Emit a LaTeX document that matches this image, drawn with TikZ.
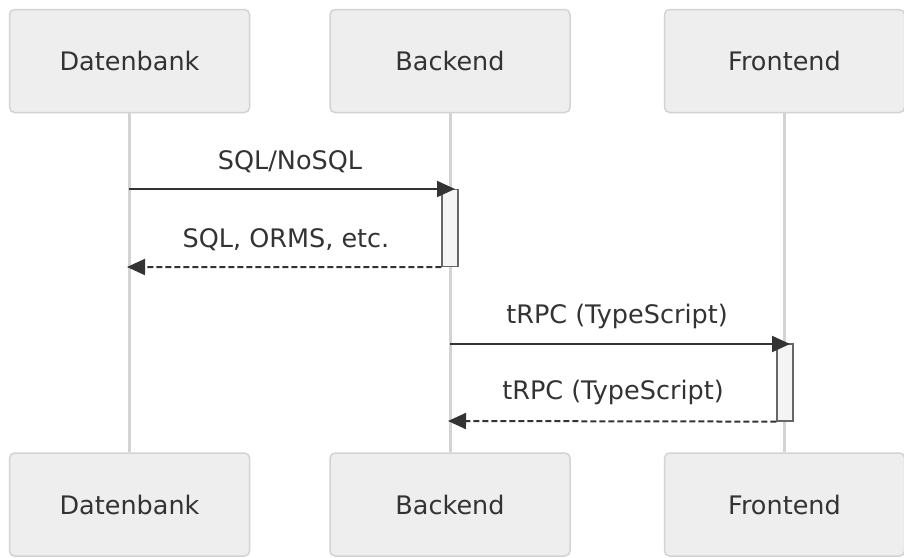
\documentclass[tikz,border=0pt]{standalone}
\usepackage{fontspec}
\setmainfont{DejaVu Sans}
\usetikzlibrary{arrows.meta}
\definecolor{boxfill}{HTML}{EEEEEE}
\definecolor{boxline}{HTML}{D3D3D3}
\definecolor{ink}{HTML}{333333}
\definecolor{actfill}{HTML}{F4F4F4}
\definecolor{actline}{HTML}{666666}
\begin{document}
\begin{tikzpicture}[x=1pt,y=-1pt,
  actor/.style={rectangle,rounded corners=5pt,draw=boxline,line width=1.5pt,fill=boxfill,
    minimum width=240pt,minimum height=103pt,text=ink,font=\fontsize{25.5}{30}\selectfont},
  life/.style={draw=boxline,line width=3pt},
  act/.style={rectangle,draw=actline,line width=1.2pt,fill=actfill,minimum width=16pt,minimum height=77pt,inner sep=0pt},
  msg/.style={draw=ink,line width=2pt,-{Triangle[length=18pt,width=16pt]}},
  reply/.style={msg,dash pattern=on 6pt off 3pt},
  lbl/.style={text=ink,font=\fontsize{25.5}{30}\selectfont,inner sep=0pt}]
\useasboundingbox (0,0) rectangle (904,557);
% participants, top and bottom
\node[actor] (db) at (129.5,61) {Datenbank};
\node[actor] (be) at (450,61) {Backend};
\node[actor] (fe) at (784.5,61) {Frontend};
\node[actor] (db2) at (129.5,504.5) {Datenbank};
\node[actor] (be2) at (450,504.5) {Backend};
\node[actor] (fe2) at (784.5,504.5) {Frontend};
\draw[life] (db) -- (db2);
\draw[life] (be) -- (be2);
\draw[life] (fe) -- (fe2);

% activations
\node[act] (a1) at (450,228) {};
\node[act] (a2) at (785,382.5) {};
\coordinate (d1) at (129,189);
\coordinate (d2) at (127,267);
\coordinate (b1) at (450,344);
\coordinate (b2) at (448,421);
\coordinate (t1) at (455,189);
\coordinate (t2) at (790,344);

% messages
\draw[msg] (d1) -- (t1);
\draw[reply] (a1.south west) -- (d2);
\draw[msg] (b1) -- (t2);
\draw[reply] (a2.south west) -- (b2);

\node[lbl] (l1) at (290,162) {SQL/NoSQL};
\node[lbl] (l2) at (286,240) {SQL, ORMS, etc.};
\node[lbl] (l3) at (617,316) {tRPC (TypeScript)};
\node[lbl] (l4) at (613,392) {tRPC (TypeScript)};
\end{tikzpicture}
\end{document}
